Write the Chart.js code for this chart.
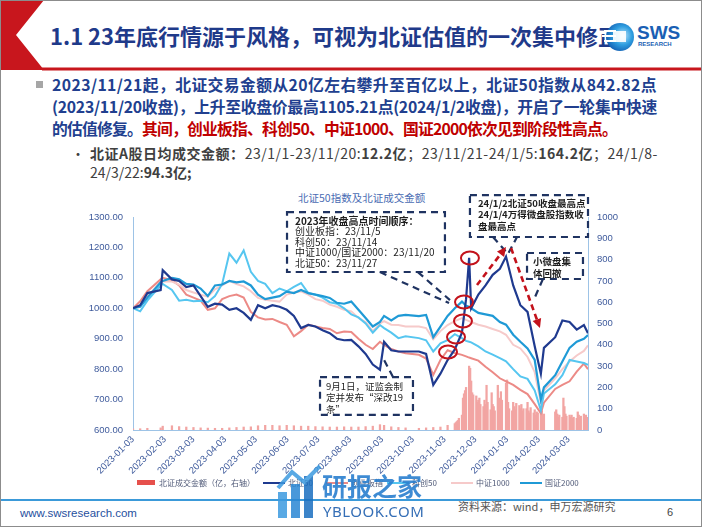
<!DOCTYPE html>
<html lang="zh-CN">
<head>
<meta charset="utf-8">
<title>北证50指数及北证成交金额</title>
<script src="https://cdn.jsdelivr.net/npm/chart.js@4.4.1/dist/chart.umd.min.js"></script>
<style>
html,body{margin:0;padding:0;background:#fff;}
#slide{position:relative;width:702px;height:527px;overflow:hidden;background:#fff;font-family:'Noto Sans CJK SC','Noto Sans',sans-serif;}
.a{position:absolute;white-space:nowrap;}
#frame{position:absolute;left:0;top:0;width:700px;height:525px;border:1px solid #8c8c8c;pointer-events:none;}
.lg{position:absolute;top:477px;height:12px;font-size:8px;line-height:12px;color:#505a78;white-space:nowrap;}
.mk{position:absolute;}
.bl{position:absolute;left:52px;white-space:nowrap;font-size:15.8px;line-height:22px;font-weight:700;color:#213f8f;}
.sl{position:absolute;left:90px;white-space:nowrap;font-size:14px;line-height:19px;color:#404040;}
</style>
</head>
<body>
<div id="slide">
  <!-- header decoration -->
  <svg class="a" style="left:0;top:0" width="702" height="80">
    <polygon points="0,0 44,0 16,35 44,70 0,70" fill="#c8161d"/>
    <line x1="42" y1="69" x2="702" y2="69" stroke="#c8161d" stroke-width="3"/>
  </svg>
  <div class="a" id="title" style="left:50px;top:19px;font-size:22px;line-height:32px;font-weight:700;color:#1f3a8a;">1.1 23年底行情源于风格，可视为北证估值的一次集中修正</div>
  <!-- logo -->
  <svg class="a" style="left:601px;top:20px" width="36" height="34">
    <defs><radialGradient id="lgd" cx="60%" cy="45%" r="60%"><stop offset="0" stop-color="#bfe6fb"/><stop offset="0.55" stop-color="#2f9ee0"/><stop offset="1" stop-color="#1562b5"/></radialGradient></defs>
    <circle cx="19" cy="17" r="14" fill="url(#lgd)"/>
    <rect x="3" y="10" width="12" height="2" fill="#fff"/>
    <rect x="1" y="15" width="14" height="2" fill="#fff"/>
    <rect x="3" y="20" width="12" height="2" fill="#fff"/>
    <rect x="12" y="11" width="13" height="11" fill="#fff" opacity="0.9"/>
  </svg>
  <div class="a" style="left:637px;top:23px;font-family:'Liberation Sans',sans-serif;font-size:19px;line-height:20px;font-weight:700;color:#1a5fb4;">SWS</div>
  <div class="a" style="left:638px;top:41px;font-family:'Liberation Sans',sans-serif;font-size:6px;line-height:7px;font-weight:700;color:#1a5fb4;">RESEARCH</div>

  <!-- body text -->
  <div class="a" style="left:36px;top:81px;width:7px;height:7px;background:#a6a6a6"></div>
  <div class="bl fit" data-w="605" style="top:74px">2023/11/21起，北证交易金额从20亿左右攀升至百亿以上，北证50指数从842.82点</div>
  <div class="bl fit" data-w="605" style="top:96px">(2023/11/20收盘)，上升至收盘价最高1105.21点(2024/1/2收盘)，开启了一轮集中快速</div>
  <div class="bl fit" data-w="565" style="top:117.5px">的估值修复。<span style="color:#c00000">其间，创业板指、科创50、中证1000、国证2000依次见到阶段性高点。</span></div>
  <div class="a" style="left:71px;top:143.5px;font-size:14px;line-height:19px;color:#404040">•</div>
  <div class="sl fit" data-w="568" style="top:143.5px"><b>北证A股日均成交金额：</b>23/1/1-23/11/20:<b>12.2亿</b>；23/11/21-24/1/5:<b>164.2亿</b>；24/1/8-</div>
  <div class="sl" style="top:162.5px">24/3/22:<b>94.3亿;</b></div>

  <!-- chart -->
  <div class="a" style="left:298px;top:190px;font-size:10.5px;line-height:15px;color:#4a6cb3;">北证50指数及北证成交金额</div>
  <canvas id="c" class="a" style="left:80px;top:188px" width="545" height="290"></canvas>
  <div id="legend"></div>

  <!-- footer -->
  <div class="a" style="left:0;top:499px;width:702px;height:1.5px;background:#3b9ad9"></div>
  <div class="a" style="left:20px;top:506px;font-family:'Liberation Sans',sans-serif;font-size:11.5px;line-height:14px;color:#1f4f9e;">www.swsresearch.com</div>
  <div class="a" style="left:458px;top:499px;font-size:11px;line-height:14px;color:#555;">资料来源：wind，申万宏源研究</div>
  <div class="a" style="left:667px;top:505px;font-family:'Liberation Sans',sans-serif;font-size:11px;line-height:14px;color:#444;">6</div>

  <!-- watermark -->
  <svg class="a" style="left:276px;top:462px;opacity:0.85" width="48" height="58">
    <rect x="2" y="30" width="9" height="26" fill="#3d9be0"/>
    <rect x="15" y="22" width="9" height="34" fill="#2a86d4"/>
    <rect x="28" y="14" width="9" height="42" fill="#1a6fc0"/>
    <polyline points="2,26 16,10 28,20 44,4" fill="none" stroke="#3d9be0" stroke-width="4"/>
  </svg>
  <div class="a" style="left:322px;top:470px;font-size:25px;line-height:30px;font-weight:700;color:#2a7fcf;opacity:0.9;">研报之家</div>
  <div class="a" style="left:323px;top:502px;font-family:'Noto Sans',sans-serif;font-size:15px;line-height:18px;letter-spacing:0.5px;color:#1f5fae;opacity:0.9;">YBLOOK.COM</div>
  <div id="frame"></div>
</div>

<script>
// ---------------- data ----------------
const dates = ['2023-01-03','2023-01-10','2023-01-17','2023-01-30','2023-02-01','2023-02-10','2023-02-17','2023-02-24','2023-03-03','2023-03-10','2023-03-17','2023-03-24','2023-03-31','2023-04-07','2023-04-14','2023-04-21','2023-04-28','2023-05-05','2023-05-12','2023-05-19','2023-05-26','2023-06-02','2023-06-09','2023-06-16','2023-06-23','2023-06-30','2023-07-07','2023-07-14','2023-07-21','2023-07-28','2023-08-04','2023-08-11','2023-08-18','2023-08-25','2023-09-01','2023-09-05','2023-09-12','2023-09-19','2023-09-26','2023-10-09','2023-10-16','2023-10-23','2023-10-30','2023-11-06','2023-11-13','2023-11-20','2023-11-24','2023-11-27','2023-11-29','2023-12-06','2023-12-13','2023-12-20','2023-12-27','2024-01-02','2024-01-09','2024-01-16','2024-01-23','2024-01-30','2024-02-05','2024-02-08','2024-02-19','2024-02-26','2024-03-04','2024-03-11','2024-03-18','2024-03-22'];

// 北证50
const bz50 = [1000,1010,1050,1060,1125,1095,1090,1070,1075,1040,1005,1015,1012,995,1000,985,962,1010,1000,1010,1005,995,975,935,945,940,928,918,900,895,896,875,850,815,798,890,862,858,858,858,850,748,785,830,865,920,1030,1166,1000,1045,1075,1110,1130,1170,1075,1010,988,875,785,870,905,960,955,930,945,918];
// 创业板指
const cyb = [1000,1023,1056,1095,1100,1092,1075,1045,1035,1025,995,1000,1030,1040,1045,1035,988,970,963,965,955,946,908,925,946,940,935,932,918,924,922,900,880,866,890,880,866,858,852,847,835,781,830,862,853,847,842,838,836,828,808,790,770,760,748,732,718,685,655,690,735,748,760,792,818,800];
// 科创50
const kc50 = [1000,990,1025,1075,1080,1060,1025,1028,1023,1025,1020,1040,1080,1180,1150,1190,1120,1090,1080,1050,1065,1056,1070,1083,1050,1045,1035,1020,1015,1000,980,970,950,920,945,935,920,902,908,902,895,858,885,895,915,902,893,890,888,875,858,848,836,826,800,776,768,730,665,720,750,780,830,825,820,814];
// 中证1000
const zz1000 = [1000,1008,1040,1085,1088,1088,1078,1060,1052,1045,1038,1062,1075,1090,1080,1072,1056,1034,1028,1025,1022,1045,1052,1056,1045,1030,1025,1012,1005,995,990,968,955,925,950,958,946,945,940,940,935,898,925,945,958,968,962,958,955,946,940,932,924,913,880,868,840,790,690,730,770,800,825,845,860,878];
// 国证2000
const gz2000 = [1000,1005,1035,1085,1090,1100,1095,1080,1078,1065,1040,1075,1078,1090,1085,1088,1075,1045,1030,1035,1040,1055,1050,1060,1050,1045,1040,1034,1018,1015,1022,995,968,940,955,975,960,975,978,974,978,905,940,975,1000,1022,1008,1005,1000,985,980,975,955,946,913,890,868,830,700,740,780,825,870,890,900,912];

// 北证成交金额（亿）
const volDates = dates.slice(0,44).concat(['2023-11-13','2023-11-14','2023-11-15','2023-11-16','2023-11-17','2023-11-20','2023-11-21','2023-11-22','2023-11-23','2023-11-24','2023-11-27','2023-11-28','2023-11-29','2023-11-30','2023-12-01','2023-12-04','2023-12-05','2023-12-06','2023-12-07','2023-12-08','2023-12-11','2023-12-12','2023-12-13','2023-12-14','2023-12-15','2023-12-18','2023-12-19','2023-12-20','2023-12-21','2023-12-22','2023-12-25','2023-12-26','2023-12-27','2023-12-28','2023-12-29','2024-01-02','2024-01-03','2024-01-04','2024-01-05','2024-01-08','2024-01-09','2024-01-10','2024-01-11','2024-01-12','2024-01-15','2024-01-16','2024-01-17','2024-01-18','2024-01-19','2024-01-22','2024-01-23','2024-01-24','2024-01-25','2024-01-26','2024-01-29','2024-01-30','2024-01-31','2024-02-01','2024-02-02','2024-02-05','2024-02-06','2024-02-07','2024-02-08','2024-02-19','2024-02-20','2024-02-21','2024-02-22','2024-02-23','2024-02-26','2024-02-27','2024-02-28','2024-02-29','2024-03-01','2024-03-04','2024-03-05','2024-03-06','2024-03-07','2024-03-08','2024-03-11','2024-03-12','2024-03-13','2024-03-14','2024-03-15','2024-03-18','2024-03-19','2024-03-20','2024-03-21','2024-03-22']);
const volValues = [5,6,8,10,18,20,16,14,12,10,9,8,8,10,12,14,15,20,22,22,20,22,20,18,18,16,15,14,14,15,14,14,16,18,25,22,15,12,10,8,10,12,14,22,
  30,35,40,45,55,70,150,170,185,200,300,290,230,175,165,160,130,140,150,120,110,140,120,210,130,95,175,120,110,90,210,150,130,180,140,220,235,130,100,90,130,110,95,125,115,100,120,90,100,100,130,90,80,105,80,95,70,85,80,95,90,65,75,85,95,75,60,70,60,150,110,75,65,70,60,70,55,60,55,85,70,60,65,75,60,70,55,60];

const xTickLabels = ['2023-01-03','2023-02-03','2023-03-03','2023-04-03','2023-05-03','2023-06-03','2023-07-03','2023-08-03','2023-09-03','2023-10-03','2023-11-03','2023-12-03','2024-01-03','2024-02-03','2024-03-03'];
const lastDate = '2024-03-22';

const seriesNames = ['北证成交金额（亿，右轴）','北证50','创业板指','科创50','中证1000','国证2000'];
const seriesColors = ['#f2a5a3','#1f3a8f','#ec8a86','#56c6f0','#f6caca','#1f9ad6'];

// -------------- text fitting (layout only) --------------
document.querySelectorAll('.fit').forEach(el=>{
  const target = +el.dataset.w;
  const w = el.getBoundingClientRect().width;
  const n = el.textContent.length;
  el.style.letterSpacing = ((target - w) / n).toFixed(3) + 'px';
});

// -------------- helpers --------------
const T0 = Date.UTC(2023,0,3);
const dayOf = s => { const p = s.split('-').map(Number); return Math.round((Date.UTC(p[0],p[1]-1,p[2]) - T0)/86400000); };
const pts = vals => vals.map((v,i)=>({x:dayOf(dates[i]), y:v}));
const tickDays = xTickLabels.map(dayOf);

// annotations (anchored in data coordinates: x = days, y = left axis)
const notes = {
  boxes: [
    {x1:150.3,y1:1316,x2:304.4,y2:1119.3,dx:8,dy:9,lh:10.5,size:10,
     lines:[['2023年收盘高点时间顺序：',true],['创业板指：23/11/5'],['科创50：23/11/14'],['中证1000/国证2000：23/11/20'],['北证50：23/11/27']]},
    {x1:182.5,y1:774,x2:273.2,y2:649.4,dx:6,dy:9,lh:11.5,size:9.5,
     lines:[['9月1日，证监会制'],['定并发布“深改19'],['条”']]},
    {x1:328.8,y1:1372,x2:444,y2:1234.3,dx:8,dy:8,lh:11.5,size:9.5,
     lines:[['24/1/2北证50收盘最高点',true],['24/1/4万得微盘股指数收',true],['盘最高点',true]]},
    {x1:384.5,y1:1181.7,x2:439.1,y2:1096.3,dx:6,dy:8,lh:12,size:9.5,
     lines:[['小微盘集',true],['体回撤',true]]}
  ],
  connectors: [
    [[241,1119],[308.4,1017]],
    [[278,1119],[309.3,1027]],
    [[253.7,774],[244,836.7]],
    [[351.3,1234],[365.9,1178.4],[374.7,1234]],
    [[400,1096],[392.3,1037]]
  ],
  arrows: [
    [[335.7,1076.6],[364,1201.4]],
    [[368.9,1198],[397.1,935.3]]
  ],
  circles: [[328.8,1165.3],[323,1020.7],[322,958.3],[315.2,905.7],[307.4,856.4]]
};

const notesPlugin = {
  id:'notes',
  afterDatasetsDraw(chart){
    const {ctx, scales} = chart;
    const X = v => scales.x.getPixelForValue(v), Y = v => scales.y.getPixelForValue(v);
    ctx.save();
    ctx.strokeStyle = '#1f3361'; ctx.lineWidth = 2.2; ctx.setLineDash([7,5]);
    notes.boxes.forEach(b=>{
      const x1=X(b.x1), x2=X(b.x2), y1=Y(b.y1), y2=Y(b.y2);
      ctx.strokeRect(x1,y1,x2-x1,y2-y1);
    });
    notes.connectors.forEach(c=>{
      ctx.beginPath();
      c.forEach((p,i)=>{ i?ctx.lineTo(X(p[0]),Y(p[1])):ctx.moveTo(X(p[0]),Y(p[1])); });
      ctx.stroke();
    });
    ctx.setLineDash([]);
    ctx.fillStyle = '#1e1e1e'; ctx.textBaseline = 'middle'; ctx.textAlign = 'left';
    notes.boxes.forEach(b=>{
      const x1=X(b.x1), y1=Y(b.y1);
      b.lines.forEach((l,i)=>{
        ctx.font = (l[1]?'bold ':'') + b.size + "px 'Noto Sans CJK SC', sans-serif";
        ctx.fillText(l[0], x1+b.dx, y1+b.dy+i*b.lh);
      });
    });
    ctx.strokeStyle = '#c3121b'; ctx.lineWidth = 2;
    notes.circles.forEach(c=>{
      ctx.beginPath(); ctx.ellipse(X(c[0]),Y(c[1]),9,6.5,0,0,Math.PI*2); ctx.stroke();
    });
    ctx.strokeStyle = '#c3121b'; ctx.fillStyle = '#c3121b'; ctx.lineWidth = 2.6;
    notes.arrows.forEach(a=>{
      const sx=X(a[0][0]), sy=Y(a[0][1]), ex=X(a[1][0]), ey=Y(a[1][1]);
      const ang = Math.atan2(ey-sy, ex-sx), L = 9;
      const bx = ex - Math.cos(ang)*L, by = ey - Math.sin(ang)*L;
      ctx.setLineDash([6,4]);
      ctx.beginPath(); ctx.moveTo(sx,sy); ctx.lineTo(bx,by); ctx.stroke();
      ctx.setLineDash([]);
      ctx.beginPath();
      ctx.moveTo(ex,ey);
      ctx.lineTo(bx + Math.cos(ang+Math.PI/2)*4.5, by + Math.sin(ang+Math.PI/2)*4.5);
      ctx.lineTo(bx + Math.cos(ang-Math.PI/2)*4.5, by + Math.sin(ang-Math.PI/2)*4.5);
      ctx.closePath(); ctx.fill();
    });
    ctx.restore();
  }
};

const tickFont = {family:"'Liberation Sans Narrow','Liberation Sans',Arial,sans-serif", size:9.5};
const tickColor = '#3f5b9c';
const axisBorder = {display:true, color:'#9dc3e6', width:1};

const lineDs = (label, vals, color, order, w) => ({
  type:'line', label, data:pts(vals), borderColor:color, backgroundColor:color,
  borderWidth:w, pointRadius:0, tension:0, order, yAxisID:'y'
});

new Chart(document.getElementById('c'), {
  type:'bar',
  data:{
    datasets:[
      {type:'bar', label:seriesNames[0], data:volValues.map((v,i)=>({x:dayOf(volDates[i]), y:v})),
       backgroundColor:seriesColors[0], borderWidth:0, barThickness:1.6, yAxisID:'y1', order:10},
      lineDs(seriesNames[2], cyb, seriesColors[2], 6, 2),
      lineDs(seriesNames[4], zz1000, seriesColors[4], 5, 2),
      lineDs(seriesNames[3], kc50, seriesColors[3], 4, 2),
      lineDs(seriesNames[5], gz2000, seriesColors[5], 3, 2.2),
      lineDs(seriesNames[1], bz50, seriesColors[1], 1, 2.2)
    ]
  },
  options:{
    responsive:false, animation:false, events:[],
    layout:{padding:{top:29,left:0,right:0,bottom:0}},
    plugins:{legend:{display:false}, tooltip:{enabled:false}, title:{display:false}},
    scales:{
      x:{type:'linear', min:0, max:dayOf(lastDate), offset:false,
         grid:{display:false, drawTicks:false, offset:false}, border:axisBorder,
         afterBuildTicks:s=>{ s.ticks = tickDays.map(v=>({value:v})); },
         afterFit:s=>{ s.height = 48; },
         ticks:{autoSkip:false, maxRotation:45, minRotation:45, padding:4, color:tickColor, font:tickFont,
                callback:v=>xTickLabels[tickDays.indexOf(v)]}},
      y:{type:'linear', position:'left', min:600, max:1300,
         grid:{display:false, drawTicks:false}, border:axisBorder,
         afterFit:s=>{ s.width = 53; },
         ticks:{stepSize:100, padding:10, color:tickColor, font:tickFont, callback:v=>v.toFixed(2)}},
      y1:{type:'linear', position:'right', min:0, max:1000,
         grid:{display:false, drawTicks:false}, border:axisBorder,
         afterFit:s=>{ s.width = 37; },
         ticks:{stepSize:100, padding:9, color:tickColor, font:tickFont, callback:v=>String(v)}}
    }
  },
  plugins:[notesPlugin]
});

// legend (html)
const legendPos = [[137,159],[263,288],[326,351],[387,412],[451,476],[520,545]];
const lg = document.getElementById('legend');
seriesNames.forEach((n,i)=>{
  const [mx, tx] = legendPos[i];
  const mk = document.createElement('div');
  mk.className = 'mk';
  if(i===0){ mk.style.cssText = `left:${mx}px;top:480px;width:18px;height:5px;background:#e6504c;`; }
  else { mk.style.cssText = `left:${mx}px;top:482px;width:22px;height:2px;background:${seriesColors[i]};`; }
  lg.appendChild(mk);
  const t = document.createElement('div');
  t.className = 'lg'; t.style.left = tx + 'px'; t.textContent = n;
  lg.appendChild(t);
});
</script>
</body>
</html>
